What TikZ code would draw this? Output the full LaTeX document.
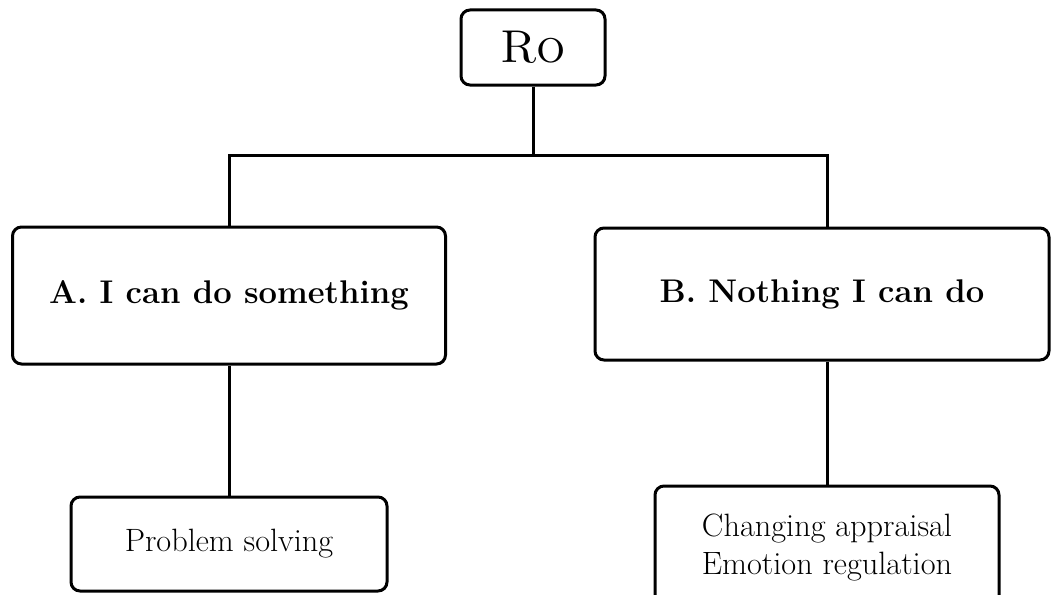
\documentclass[tikz,border=0pt]{standalone}
\usepackage{fontspec}
\begin{document}
\begin{tikzpicture}[x=1pt,y=-1pt,line width=3pt,
  box/.style={draw,rounded corners=9pt,inner sep=0pt},
  bigfont/.style={font=\fontsize{32.8}{36}\selectfont\bfseries},
  smallfont/.style={font=\fontsize{32.3}{38}\selectfont}]
\useasboundingbox (0,0) rectangle (1051,594);
\node[box,minimum width=144pt,minimum height=75pt,font=\fontsize{46}{50}\selectfont] (ro) at (533,47.5) {\textsc{Ro}};
\node[box,bigfont,minimum width=433pt,minimum height=137pt] (A) at (229,295.5) {A. I can do something};
\node[box,bigfont,minimum width=454pt,minimum height=132pt] (B) at (822,294) {B. Nothing I can do};
\node[box,smallfont,minimum width=316pt,minimum height=94pt] (ps) at (229,544) {Problem solving};
\node[box,smallfont,align=center,minimum width=344pt,minimum height=122pt] (ce) at (827,547) {Changing appraisal\\Emotion regulation};
\coordinate (hl) at (533,155);
\draw (ro.south) -- (hl);
\draw (A.north) |- (hl) -| ([xshift=5pt]B.north);
\draw (A.south) -- (ps.north);
\draw ([xshift=5pt]B.south) -- (ce.north);
\end{tikzpicture}
\end{document}
